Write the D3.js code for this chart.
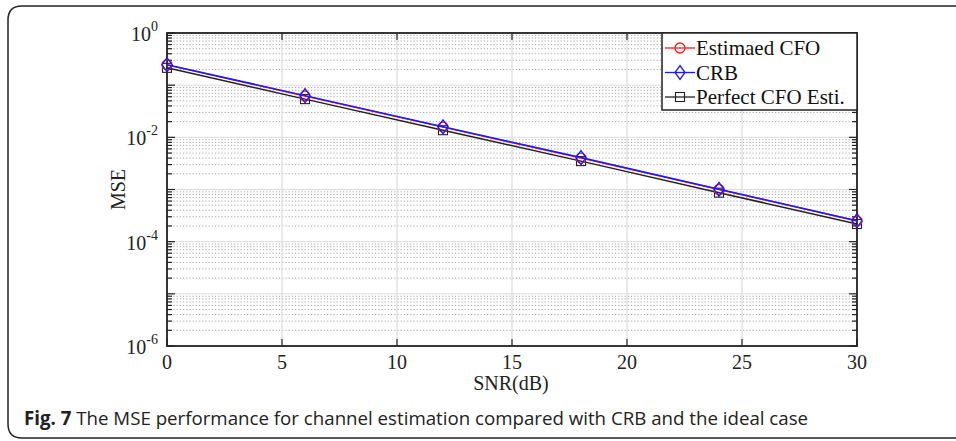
<!DOCTYPE html>
<html>
<head>
<meta charset="utf-8">
<script src="https://cdn.jsdelivr.net/npm/d3@7"></script>
<style>
  body { margin: 0; background: #fff; }
  svg { display: block; }
</style>
</head>
<body>
<div id="chart"></div>
<script>
// data
const snr = [0, 6, 12, 18, 24, 30];
const estimatedCFO = [0.245, 0.062, 0.0157, 0.0040, 0.00100, 0.000250];
const crb = [0.247, 0.063, 0.0159, 0.0041, 0.00101, 0.000252];
const perfectCFO = [0.215, 0.054, 0.0137, 0.0035, 0.00087, 0.000218];
const xTicks = [0, 5, 10, 15, 20, 25, 30];
const yTicks = [-6, -4, -2, 0]; // exponents
const seriesNames = ["Estimaed CFO", "CRB", "Perfect CFO Esti."];

function drawChart() {
    const W = 956, H = 441;
    const m = { left: 167, right: 857, top: 33, bottom: 346 };

    const svg = d3.select("#chart").append("svg")
        .attr("width", W)
        .attr("height", H);

    // outer frame of the figure panel (rounded on the left, runs off the right)
    const fr = 14;
    svg.append("path")
        .attr("d", `M ${W + 5} 6 L ${8 + fr} 6 Q 8 6 8 ${6 + fr} L 8 ${438 - fr} Q 8 438 ${8 + fr} 438 L ${W + 5} 438`)
        .attr("fill", "none")
        .attr("stroke", "#222")
        .attr("stroke-width", 1.5);

    const x = d3.scaleLinear().domain([0, 30]).range([m.left, m.right]);
    const y = d3.scaleLog().domain([1e-6, 1]).range([m.bottom, m.top]);

    const grid = svg.append("g");
    // minor horizontal grid (dotted)
    for (let e = -6; e < 0; e++) {
        for (let k = 2; k <= 9; k++) {
            grid.append("line")
                .attr("x1", m.left).attr("x2", m.right)
                .attr("y1", y(k * Math.pow(10, e))).attr("y2", y(k * Math.pow(10, e)))
                .attr("stroke", "#a8a8a8")
                .attr("stroke-width", 1)
                .attr("stroke-dasharray", "1.2,2");
        }
    }
    // major grid
    for (let e = -5; e <= 0; e++) {
        grid.append("line")
            .attr("x1", m.left).attr("x2", m.right)
            .attr("y1", y(Math.pow(10, e))).attr("y2", y(Math.pow(10, e)))
            .attr("stroke", "#dcdcdc").attr("stroke-width", 1);
    }
    xTicks.forEach(t => {
        grid.append("line")
            .attr("x1", x(t)).attr("x2", x(t))
            .attr("y1", m.top).attr("y2", m.bottom)
            .attr("stroke", "#dcdcdc").attr("stroke-width", 1.2);
    });

    // axes, ticks inside
    const yVals = [];
    for (let e = -6; e < 0; e++) for (let k = 1; k <= 9; k++) yVals.push(k * Math.pow(10, e));
    yVals.push(1);

    const axisG = svg.append("g").attr("stroke", "#222");
    yVals.forEach(v => {
        const major = Math.abs(Math.log10(v) % 1) < 1e-9;
        const len = major ? 8 : 5;
        axisG.append("line").attr("x1", m.left).attr("x2", m.left + len)
            .attr("y1", y(v)).attr("y2", y(v)).attr("stroke-width", 1.2);
        axisG.append("line").attr("x1", m.right).attr("x2", m.right - len)
            .attr("y1", y(v)).attr("y2", y(v)).attr("stroke-width", 1.2);
    });
    xTicks.forEach(t => {
        axisG.append("line").attr("x1", x(t)).attr("x2", x(t))
            .attr("y1", m.bottom).attr("y2", m.bottom - 7).attr("stroke-width", 1.2);
        axisG.append("line").attr("x1", x(t)).attr("x2", x(t))
            .attr("y1", m.top).attr("y2", m.top + 7).attr("stroke-width", 1.2);
    });
    svg.append("rect")
        .attr("x", m.left).attr("y", m.top)
        .attr("width", m.right - m.left).attr("height", m.bottom - m.top)
        .attr("fill", "none").attr("stroke", "#222").attr("stroke-width", 1.8);

    const serif = "'Liberation Serif', 'Times New Roman', serif";

    // tick labels
    xTicks.forEach(t => {
        svg.append("text")
            .attr("x", x(t)).attr("y", 369)
            .attr("text-anchor", "middle")
            .attr("font-family", serif).attr("font-size", 20)
            .attr("fill", "#222")
            .text(t);
    });
    yTicks.forEach(e => {
        const tx = svg.append("text")
            .attr("x", 158).attr("y", y(Math.pow(10, e)) + 8)
            .attr("text-anchor", "end")
            .attr("font-family", serif).attr("font-size", 20)
            .attr("fill", "#222");
        tx.append("tspan").text("10");
        tx.append("tspan").attr("dy", -10).attr("font-size", 14).text(e);
    });

    // axis titles
    svg.append("text")
        .attr("x", 511).attr("y", 390)
        .attr("text-anchor", "middle")
        .attr("font-family", serif).attr("font-size", 20)
        .attr("fill", "#222")
        .text("SNR(dB)");
    svg.append("text")
        .attr("transform", `translate(125,${(m.top + m.bottom) / 2}) rotate(-90)`)
        .attr("text-anchor", "middle")
        .attr("font-family", serif).attr("font-size", 20)
        .attr("fill", "#222")
        .text("MSE");

    // series
    const series = [
        { name: seriesNames[2], vals: perfectCFO, color: "#222", marker: "square" },
        { name: seriesNames[0], vals: estimatedCFO, color: "#ff1a1a", marker: "circle" },
        { name: seriesNames[1], vals: crb, color: "#1a1aff", marker: "diamond" }
    ];
    const line = d3.line().x(d => x(d[0])).y(d => y(d[1]));

    function marker(g, type, cx, cy, color) {
        if (type === "circle") {
            g.append("circle").attr("cx", cx).attr("cy", cy).attr("r", 5)
                .attr("fill", "none").attr("stroke", color).attr("stroke-width", 1.3);
        } else if (type === "diamond") {
            g.append("path")
                .attr("d", `M ${cx} ${cy - 7} L ${cx + 5} ${cy} L ${cx} ${cy + 7} L ${cx - 5} ${cy} Z`)
                .attr("fill", "none").attr("stroke", color).attr("stroke-width", 1.3);
        } else {
            g.append("rect").attr("x", cx - 4.5).attr("y", cy - 4.5)
                .attr("width", 9).attr("height", 9)
                .attr("fill", "none").attr("stroke", color).attr("stroke-width", 1.1);
        }
    }

    series.forEach(s => {
        const pts = snr.map((v, i) => [v, s.vals[i]]);
        const g = svg.append("g");
        g.append("path").datum(pts)
            .attr("d", line)
            .attr("fill", "none")
            .attr("stroke", s.color)
            .attr("stroke-width", 1.5);
        pts.forEach(p => marker(g, s.marker, x(p[0]), y(p[1]), s.color));
    });

    // legend
    const lg = svg.append("g");
    lg.append("rect")
        .attr("x", 662).attr("y", m.top)
        .attr("width", m.right - 662).attr("height", 77)
        .attr("fill", "#fff").attr("stroke", "#222").attr("stroke-width", 1.5);
    const legendItems = [series[1], series[2], series[0]];
    legendItems.forEach((s, i) => {
        const ly = 48 + i * 24.5;
        lg.append("line").attr("x1", 665).attr("x2", 695)
            .attr("y1", ly).attr("y2", ly)
            .attr("stroke", s.color).attr("stroke-width", 1.3);
        marker(lg, s.marker, 680, ly, s.color);
        lg.append("text")
            .attr("x", 696).attr("y", ly + 7)
            .attr("font-family", serif).attr("font-size", 21)
            .attr("fill", "#111")
            .text(s.name);
    });

    // caption
    const cap = svg.append("text")
        .attr("x", 24).attr("y", 425)
        .attr("font-family", "'Open Sans', 'Noto Sans', sans-serif")
        .attr("font-size", 18.7)
        .attr("fill", "#222");
    cap.append("tspan").attr("font-weight", "bold").text("Fig. 7");
    cap.append("tspan").text(" The MSE performance for channel estimation compared with CRB and the ideal case");
}

window.onload = () => {
    drawChart();
};
</script>
</body>
</html>
